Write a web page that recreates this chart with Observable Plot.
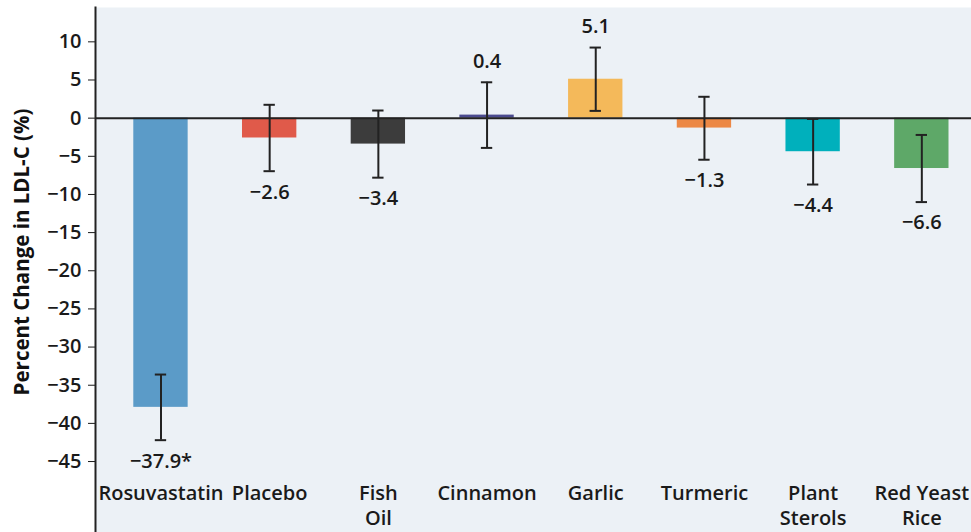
<!DOCTYPE html>
<html><head><meta charset="utf-8">
<script src="https://cdn.jsdelivr.net/npm/d3@7"></script>
<script src="https://cdn.jsdelivr.net/npm/@observablehq/plot@0.6"></script>
<style>
html,body{margin:0;padding:0;background:#fff;}
#chart svg{display:block;}
</style></head><body><div id="chart"></div>
<script>
const categories = ["Rosuvastatin","Placebo","Fish Oil","Cinnamon","Garlic","Turmeric","Plant Sterols","Red Yeast Rice"];
const tickLabels = ["Rosuvastatin","Placebo","Fish\nOil","Cinnamon","Garlic","Turmeric","Plant\nSterols","Red Yeast\nRice"];
const values = [-37.9,-2.6,-3.4,0.4,5.1,-1.3,-4.4,-6.6];
const lower = [-42.2,-6.95,-7.8,-3.9,0.95,-5.45,-8.7,-11.0];
const upper = [-33.6,1.75,1.0,4.7,9.25,2.8,-0.1,-2.2];
const valueLabels = ["\u221237.9*","\u22122.6","\u22123.4","0.4","5.1","\u22121.3","\u22124.4","\u22126.6"];
const colors = ["#5b9bc8","#e05a4a","#3c3c3c","#4b4b8f","#f4b95a","#ec8845","#00b0bc","#5ea868"];
const yTicks = [10,5,0,-5,-10,-15,-20,-25,-30,-35,-40,-45];
const yTitle = "Percent Change in LDL-C (%)";

const data = categories.map((c,i)=>({cat:c, value:values[i], lo:lower[i], hi:upper[i], label:valueLabels[i]}));
const fmt = new Map(categories.map((c,i)=>[c,tickLabels[i]]));
const font = "'Open Sans', Roboto, sans-serif";

const chart = Plot.plot({
  width: 971, height: 532,
  marginLeft: 95, marginRight: 0, marginTop: 7, marginBottom: 0,
  style: {fontFamily: font, fontSize: "19px", fontWeight: 600, color: "#1a1a1a", background: "transparent", overflow: "visible"},
  x: {domain: categories, range: [133.3, 948.5], paddingInner: 0.5, paddingOuter: 0, align: 0.5, round: false},
  y: {domain: [-54.3, 14.5]},
  color: {domain: categories, range: colors},
  marks: [
    Plot.frame({fill: "#ecf1f6", stroke: null}),
    Plot.barY(data, {x: "cat", y: "value", fill: "cat"}),
    Plot.ruleY([0], {stroke: "#222", strokeWidth: 2}),
    Plot.ruleX(data, {x: "cat", y1: "lo", y2: "hi", stroke: "#222", strokeWidth: 2}),
    Plot.tickY(data, {x: "cat", y: "lo", insetLeft: 21.5, insetRight: 21.5, stroke: "#222", strokeWidth: 2}),
    Plot.tickY(data, {x: "cat", y: "hi", insetLeft: 21.5, insetRight: 21.5, stroke: "#222", strokeWidth: 2}),
    Plot.text(data, {filter: d => d.value < 0, x: "cat", y: "lo", text: "label", dy: 21, fontSize: 20, fill: "#1a1a1a"}),
    Plot.text(data, {filter: d => d.value >= 0, x: "cat", y: "hi", text: "label", dy: -21, fontSize: 20, fill: "#1a1a1a"}),
    Plot.axisY({ticks: yTicks, tickSize: 7, tickPadding: 7, label: null, fontSize: 20}),
    Plot.text([yTitle], {frameAnchor: "left", textAnchor: "middle", rotate: -90, dx: -73, dy: -18, fontSize: 20.5, fontWeight: 700, fill: "#111"}),
    Plot.axisX({anchor: "bottom", tickSize: 0, tickPadding: 0, label: null, tickFormat: d => fmt.get(d), dy: -51, lineHeight: 1.27, fontSize: 20, lineAnchor: "top"}),
    Plot.frame({anchor: "left", stroke: "#222", strokeWidth: 2})
  ]
});
document.getElementById("chart").append(chart);
</script></body></html>
